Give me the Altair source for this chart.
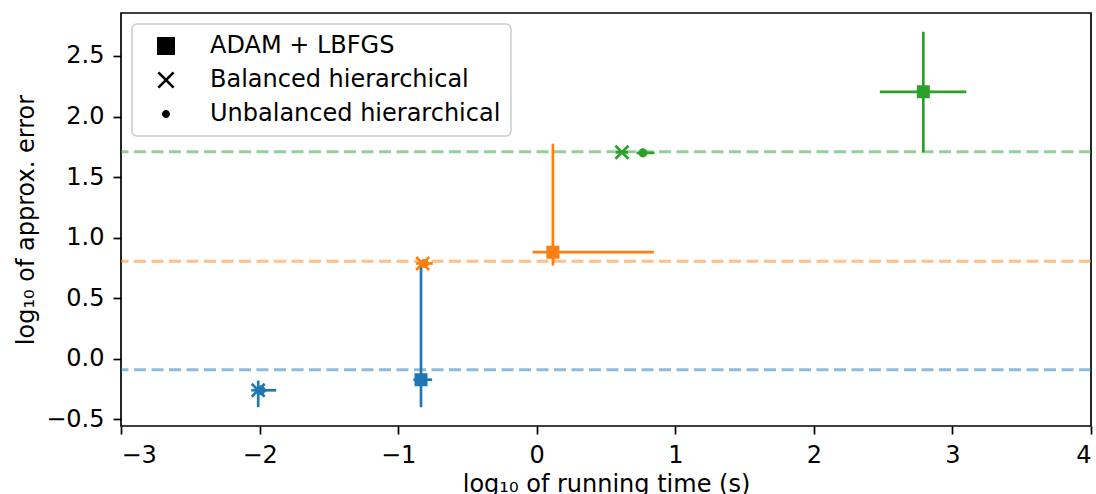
import altair as alt
import pandas as pd

# Problem sizes and their colours
levels = ["L = 3", "L = 6", "L = 9"]
palette = ["#1f77b4", "#ff7f0e", "#2ca02c"]

# Solvers
methods = ["ADAM + LBFGS", "Balanced hierarchical", "Unbalanced hierarchical"]

# One entry per (level, solver): log10 running time and log10 approx. error,
# with the extents of the horizontal and vertical error bars
pt_level = ["L = 3", "L = 3", "L = 3", "L = 6", "L = 6", "L = 6", "L = 9", "L = 9", "L = 9"]
pt_method = methods * 3
log_time = [-0.835, -2.01, -1.99, 0.117, -0.823, -0.81, 2.79, 0.615, 0.766]
log_err = [-0.173, -0.26, -0.26, 0.88, 0.787, 0.787, 2.204, 1.705, 1.70]
time_lo = [-0.89, -2.06, -2.03, -0.03, -0.87, -0.84, 2.476, 0.57, 0.72]
time_hi = [-0.755, -1.95, -1.88, 0.845, -0.78, -0.75, 3.10, 0.66, 0.85]
err_lo = [-0.40, -0.40, -0.30, 0.77, 0.76, 0.77, 1.705, 1.69, 1.69]
err_hi = [0.78, -0.18, -0.22, 1.776, 0.81, 0.80, 2.70, 1.72, 1.71]

# Reference error level for each problem size (dashed lines)
ref_err = [-0.09, 0.806, 1.71]

x_ticks = [-3, -2, -1, 0, 1, 2, 3, 4]
y_ticks = [-0.5, 0.0, 0.5, 1.0, 1.5, 2.0, 2.5]

pts = pd.DataFrame({
    "level": pt_level, "method": pt_method,
    "log_time": log_time, "log_err": log_err,
    "time_lo": time_lo, "time_hi": time_hi,
    "err_lo": err_lo, "err_hi": err_hi,
})
refs_df = pd.DataFrame({"level": levels, "ref": ref_err})

FONT = "DejaVu Sans"
FS = 24

# marker paths in the plot: filled square, x, small dot
plot_paths = [
    "M-0.8,-0.8H0.8V0.8H-0.8Z",
    "M-1,-1L1,1M-1,1L1,-1",
    "M0.5,0A0.5,0.5 0 1,1 -0.5,0A0.5,0.5 0 1,1 0.5,0Z",
]
# legend handles, all as filled outlines (the x is two thin diagonal bars)
legend_paths = [
    "M-0.9,-0.9H0.9V0.9H-0.9Z",
    "M-0.67,-0.85L0.85,0.67L0.67,0.85L-0.85,-0.67Z"
    "M-0.85,0.67L0.67,-0.85L0.85,-0.67L-0.67,0.85Z",
    "M0.4,0A0.4,0.4 0 1,1 -0.4,0A0.4,0.4 0 1,1 0.4,0Z",
]
patch_path = "M-2.7,-1H2.7V1H-2.7Z"

x_scale = alt.Scale(domain=[-3, 4], nice=False, zero=False)
y_scale = alt.Scale(domain=[-0.555, 2.855], nice=False, zero=False)
col_scale = alt.Scale(domain=levels, range=palette)

x_axis = alt.Axis(title="log₁₀ of running time (s)", values=x_ticks, format="d",
                  labelPadding=9, titlePadding=5)
y_axis = alt.Axis(title="log₁₀ of approx. error", values=y_ticks, format=".1f",
                  labelPadding=9, titlePadding=7)

refs = alt.Chart(refs_df).mark_rule(strokeWidth=3, strokeDash=[12, 5.5], opacity=0.5).encode(
    y=alt.Y("ref:Q", scale=y_scale, axis=y_axis),
    color=alt.Color("level:N", scale=col_scale, legend=None),
)

vbars = alt.Chart(pts).mark_rule(strokeWidth=2.7).encode(
    x=alt.X("log_time:Q", scale=x_scale, axis=x_axis),
    y=alt.Y("err_lo:Q", scale=y_scale, axis=y_axis),
    y2="err_hi:Q",
    color=alt.Color("level:N", scale=col_scale, legend=None),
)

hbars = alt.Chart(pts).mark_rule(strokeWidth=2.7).encode(
    x=alt.X("time_lo:Q", scale=x_scale, axis=x_axis),
    x2="time_hi:Q",
    y=alt.Y("log_err:Q", scale=y_scale, axis=y_axis),
    color=alt.Color("level:N", scale=col_scale, legend=None),
)

points = alt.Chart(pts).mark_point(filled=True, opacity=1, strokeWidth=2.6, size=169).encode(
    x=alt.X("log_time:Q", scale=x_scale, axis=x_axis),
    y=alt.Y("log_err:Q", scale=y_scale, axis=y_axis),
    shape=alt.Shape("method:N", scale=alt.Scale(domain=methods, range=plot_paths), legend=None),
    color=alt.Color(
        "level:N", scale=col_scale,
        legend=alt.Legend(
            title=None, orient="none", legendX=813, legendY=289.5,
            padding=10, rowPadding=10, symbolType=patch_path, symbolSize=324,
            symbolStrokeWidth=0, symbolOpacity=1, symbolOffset=13,
            labelOffset=27, labelLimit=500,
            fillColor="rgba(255,255,255,0.8)", strokeColor="#cccccc",
        ),
    ),
    stroke=alt.Stroke("level:N", scale=col_scale, legend=None),
    order=alt.Order("level:N"),
)

# solver legend, carried by a transparent copy of the points
solver_key = alt.Chart(pts).mark_point(filled=True, fill="black", opacity=0).encode(
    x=alt.X("log_time:Q", scale=x_scale, axis=x_axis),
    y=alt.Y("log_err:Q", scale=y_scale, axis=y_axis),
    shape=alt.Shape(
        "method:N",
        scale=alt.Scale(domain=methods, range=legend_paths),
        legend=alt.Legend(
            title=None, orient="none", legendX=11, legendY=11,
            padding=10, rowPadding=10, symbolSize=400, symbolStrokeWidth=0,
            symbolFillColor="black", symbolOpacity=1,
            symbolOffset=12, labelOffset=32, labelLimit=500,
            fillColor="rgba(255,255,255,0.8)", strokeColor="#cccccc",
        ),
    ),
)

chart = (
    alt.layer(refs, vbars, hbars, points, solver_key)
    .resolve_scale(shape="independent")
    .properties(
        width=970, height=413,
        autosize=alt.AutoSizeParams(type="none"),
        padding={"left": 121, "top": 13, "right": 5, "bottom": 68},
        background="white",
    )
    .configure_view(stroke="black", strokeWidth=1.7)
    .configure_axis(
        domain=False, grid=False,
        labelFont=FONT, labelFontSize=FS, labelColor="black",
        tickColor="black", tickWidth=1.7, tickSize=8,
        titleFont=FONT, titleFontSize=FS, titleFontWeight="normal", titleColor="black",
    )
    .configure_legend(labelFont=FONT, labelFontSize=FS, labelColor="black",
                      strokeWidth=1.5, cornerRadius=5)
)

chart.save("out.html", embed_options={"renderer": "svg", "actions": False})
